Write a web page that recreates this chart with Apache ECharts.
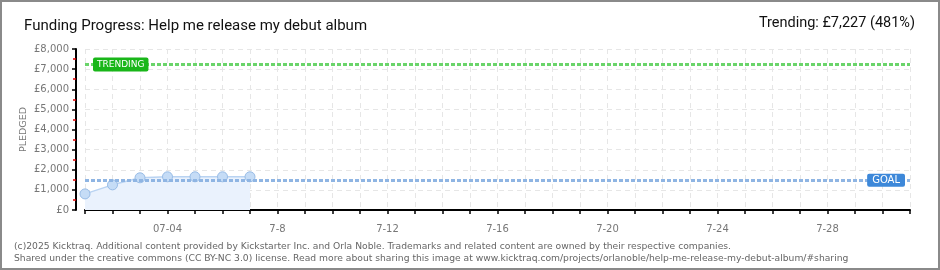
<!DOCTYPE html>
<html>
<head>
<meta charset="utf-8">
<script src="https://cdn.jsdelivr.net/npm/echarts@6/dist/echarts.min.js"></script>
<style>
html,body{margin:0;padding:0;background:#fff;}
#wrap{position:relative;width:940px;height:270px;}
#chart{width:940px;height:270px;}
#frame{position:absolute;left:0;top:0;width:940px;height:270px;box-sizing:border-box;border:2px solid #8a8a8a;pointer-events:none;}
</style>
</head>
<body>
<div id="wrap"><div id="chart"></div><div id="frame"></div></div>
<script>
var titleText = 'Funding Progress: Help me release my debut album';
var trendingText = 'Trending: £7,227 (481%)';
var footer1 = '(c)2025 Kicktraq. Additional content provided by Kickstarter Inc. and Orla Noble. Trademarks and related content are owned by their respective companies.';
var footer2 = 'Shared under the creative commons (CC BY-NC 3.0) license. Read more about sharing this image at www.kicktraq.com/projects/orlanoble/help-me-release-my-debut-album/#sharing';
var yAxisName = 'PLEDGED';

var categories = ['07-01','07-02','07-03','07-04','07-05','07-06','07-07','07-08','07-09','07-10',
  '07-11','07-12','07-13','07-14','07-15','07-16','07-17','07-18','07-19','07-20',
  '07-21','07-22','07-23','07-24','07-25','07-26','07-27','07-28','07-29','07-30','07-31'];
var xTickLabels = ['','','','07-04','','','','7-8','','','','7-12','','','','7-16','','','','7-20',
  '','','','7-24','','','','7-28','','',''];
var pledged = [800, 1250, 1600, 1650, 1650, 1650, 1650];
var goalValue = 1500;
var trendingValue = 7227;
var yMin = 0, yMax = 8000, yStep = 1000;

var chart = echarts.init(document.getElementById('chart'), null, {renderer: 'canvas'});
var axisFont = 'DejaVu Sans';
chart.setOption({
  animation: false,
  backgroundColor: '#ffffff',
  title: [
    {text: titleText, left: 19, top: 14, textStyle: {fontFamily: 'Roboto', fontSize: 15, fontWeight: 'normal', color: '#111'}},
    {text: trendingText, right: 20, top: 11, textStyle: {fontFamily: 'Roboto', fontSize: 14.5, fontWeight: 'normal', color: '#111'}},
    {text: footer1, left: 9, top: 237, textStyle: {fontFamily: axisFont, fontSize: 9.2, fontWeight: 'normal', color: '#666'}},
    {text: footer2, left: 9, top: 249, textStyle: {fontFamily: axisFont, fontSize: 9.2, fontWeight: 'normal', color: '#666'}}
  ],
  grid: {left: 85, right: 30, top: 49, bottom: 60},
  xAxis: {
    type: 'category',
    data: categories,
    boundaryGap: false,
    offset: 10,
    axisLine: {lineStyle: {color: '#000', width: 2}},
    axisTick: {show: true, interval: 0, length: 4, lineStyle: {color: '#000', width: 1.5}},
    axisLabel: {interval: 0, color: '#777', fontFamily: axisFont, fontSize: 10, margin: 4,
      formatter: function (v, i) { return xTickLabels[i]; }},
    splitLine: {show: true, interval: 0, lineStyle: {color: '#e6e6e6', type: [5, 4], width: 1}}
  },
  yAxis: {
    type: 'value',
    min: yMin, max: yMax, interval: yStep,
    offset: 9,
    name: yAxisName,
    nameLocation: 'middle',
    nameGap: 47,
    nameMoveOverlap: false,
    nameRotate: 90,
    nameTextStyle: {color: '#777', fontFamily: axisFont, fontSize: 9.5},
    axisLine: {show: true, lineStyle: {color: '#000', width: 2}},
    axisTick: {show: true, length: 4, lineStyle: {color: '#000', width: 1.5}},
    minorTick: {show: true, splitNumber: 2, length: 3, lineStyle: {color: '#e00000', width: 1.5}},
    axisLabel: {color: '#777', fontFamily: axisFont, fontSize: 10, margin: 7,
      formatter: function (v) { return '£' + v.toLocaleString('en-US'); }},
    splitLine: {show: true, lineStyle: {color: '#e6e6e6', type: [5, 4], width: 1}}
  },
  series: [{
    type: 'line',
    data: pledged,
    symbol: 'circle',
    symbolSize: 10,
    itemStyle: {color: '#c5dcf6', borderColor: '#98bce6', borderWidth: 1},
    lineStyle: {color: '#b9d3f2', width: 1.5},
    areaStyle: {color: '#eaf2fd', opacity: 1},
    z: 3,
    markLine: {
      silent: true,
      symbol: 'none',
      animation: false,
      data: [
        {yAxis: goalValue, lineStyle: {color: '#8fb5e3', width: 3, type: [4, 2]},
          label: {show: true, position: 'insideEndTop', formatter: 'GOAL', distance: [5, -7],
            backgroundColor: '#3d88d9', color: '#fff', fontFamily: axisFont, fontSize: 10,
            padding: [2, 5, 1, 5], borderRadius: 2}},
        {yAxis: trendingValue, lineStyle: {color: '#6ad46a', width: 3, type: [4, 2]},
          label: {show: true, position: 'insideStartTop', formatter: 'TRENDING', distance: [8, -7],
            backgroundColor: '#19b619', color: '#fff', fontFamily: axisFont, fontSize: 9,
            padding: [3, 4, 2, 4], borderRadius: 2}}
      ]
    }
  }]
});
</script>
</body>
</html>
